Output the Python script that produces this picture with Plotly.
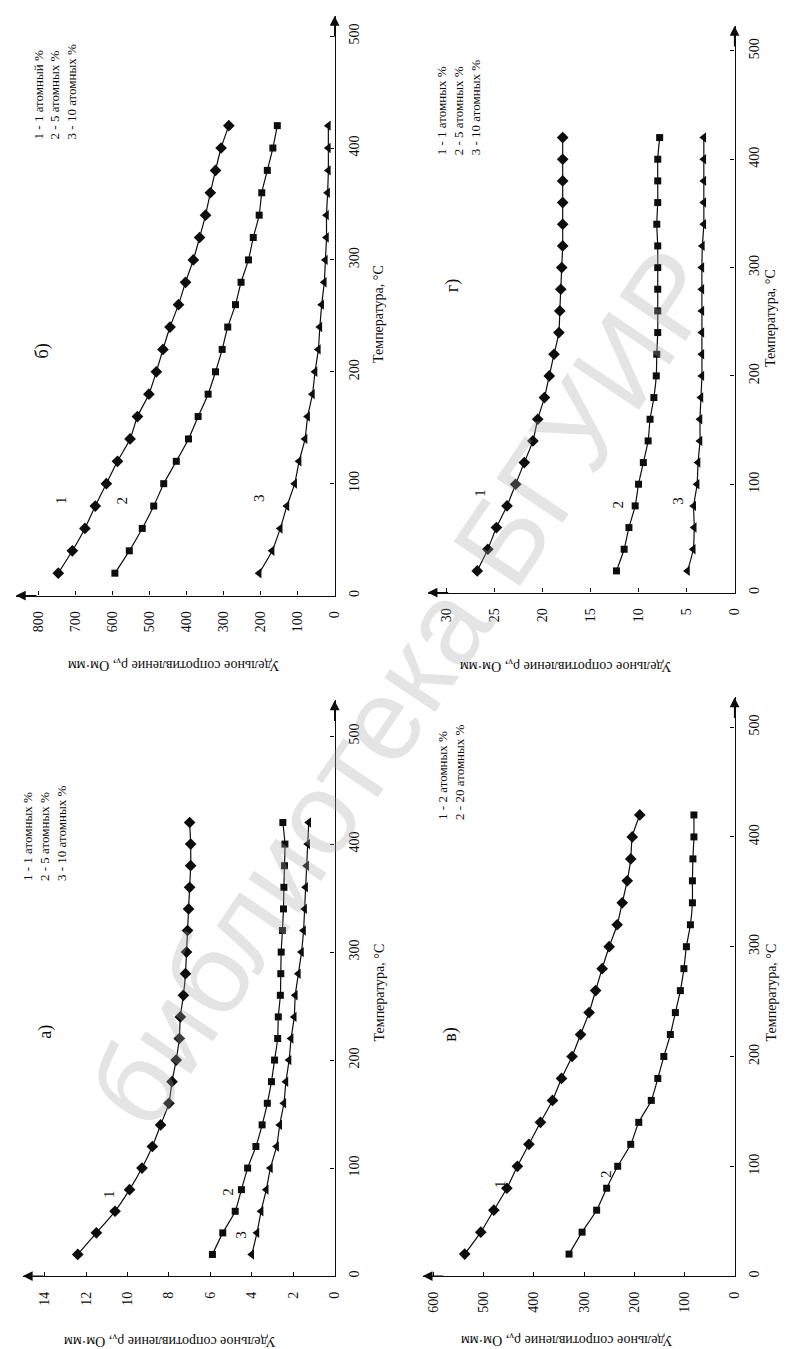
import plotly.graph_objects as go

W, H = 788, 1349

# ---------------- data ----------------
temperature = [20, 40, 60, 80, 100, 120, 140, 160, 180, 200, 220,
               240, 260, 280, 300, 320, 340, 360, 380, 400, 420]
temp_ticks = [0, 100, 200, 300, 400, 500]

# panel а)  (Ом·мм)
a_1 = [12.4, 11.5, 10.6, 9.9, 9.3, 8.8, 8.4, 8.0, 7.85, 7.65, 7.5,
       7.45, 7.3, 7.2, 7.15, 7.1, 7.05, 7.0, 6.95, 6.95, 7.0]
a_5 = [5.9, 5.4, 4.8, 4.5, 4.2, 3.8, 3.5, 3.25, 3.05, 2.9, 2.75,
       2.72, 2.62, 2.6, 2.58, 2.52, 2.47, 2.45, 2.42, 2.4, 2.5]
a_10 = [4.0, 3.75, 3.55, 3.3, 3.1, 2.8, 2.65, 2.45, 2.35, 2.2, 2.1,
        1.95, 1.9, 1.75, 1.6, 1.5, 1.45, 1.4, 1.35, 1.3, 1.25]
a_ticks = [0, 2, 4, 6, 8, 10, 12, 14]

# panel б)
b_1 = [747, 709, 675, 647, 617, 587, 553, 533, 502, 482, 464,
       445, 422, 403, 382, 365, 349, 336, 322, 307, 286]
b_5 = [594, 555, 520, 489, 462, 428, 395, 369, 342, 322, 304,
       289, 268, 253, 233, 220, 204, 197, 182, 167, 155]
b_10 = [204, 169, 147, 129, 108, 96, 80, 73, 60, 53, 44,
        40, 35, 28, 25, 22, 22, 19, 17, 17, 17]
b_ticks = [0, 100, 200, 300, 400, 500, 600, 700, 800]

# panel в)
c_2 = [538, 506, 480, 454, 433, 410, 387, 363, 345, 324, 307,
       290, 277, 264, 250, 234, 224, 214, 207, 204, 189]
c_20 = [330, 304, 275, 255, 233, 207, 191, 166, 153, 141, 128,
        118, 108, 101, 96, 88, 84, 84, 83, 81, 81]
c_ticks = [0, 100, 200, 300, 400, 500, 600]

# panel г)
d_1 = [26.8, 25.7, 24.8, 23.7, 22.8, 21.9, 21.0, 20.5, 19.8, 19.3, 18.8,
       18.3, 18.2, 18.1, 18.0, 17.9, 17.9, 17.9, 17.9, 17.9, 17.9]
d_5 = [12.3, 11.5, 11.0, 10.35, 10.0, 9.5, 9.0, 8.8, 8.4, 8.15, 8.1,
       8.0, 8.0, 8.0, 8.0, 8.0, 8.1, 8.0, 8.0, 8.0, 7.8]
d_10 = [4.9, 4.3, 4.2, 4.25, 3.9, 3.8, 3.6, 3.6, 3.5, 3.4, 3.4,
        3.4, 3.4, 3.4, 3.4, 3.35, 3.2, 3.2, 3.2, 3.2, 3.2]
d_ticks = [0, 5, 10, 15, 20, 25, 30]

legend_a = ["1 - 1 атомных %", "2 - 5 атомных %", "3 - 10 атомных %"]
legend_b = ["1 - 1 атомный %", "2 - 5 атомных %", "3 - 10 атомных %"]
legend_c = ["1 - 2 атомных %", "2 - 20 атомных %"]
legend_d = ["1 - 1 атомных %", "2 - 5 атомных %", "3 - 10 атомных %"]

x_title = "Температура, °C"
y_title = "Удельное сопротивление ρ<sub>v</sub>, Ом·мм"
watermark = "библиотека БГУИР"

FONT = "Liberation Serif, Times New Roman, serif"
INK = "#0d0d0d"

def px(p):
    return p / W

def py(p):
    return 1 - p / H

symbols = ["diamond", "square", "triangle-left"]
msizes = [9, 7, 9]

panels = [
    dict(ax="", label="а)", left=15, right=330, bottom=1269, top=693,
         rmax=15.05, tmax=533, ticks=a_ticks, series=[a_1, a_5, a_10],
         legend=legend_a, leg_xy=(37, 826), lab_xy=(38, 1025),
         xt_xy=(375, 985), yt_xy=(163, 1334),
         curve_labels=[("1", 102, 1187), ("2", 222, 1185), ("3", 235, 1228)]),
    dict(ax="2", label="б)", left=8, right=330, bottom=588, top=8,
         rmax=861.5, tmax=518, ticks=b_ticks, series=[b_1, b_5, b_10],
         legend=legend_b, leg_xy=(48, 84), lab_xy=(35, 343),
         xt_xy=(375, 306), yt_xy=(167, 657),
         curve_labels=[("1", 53, 492), ("2", 115, 493), ("3", 253, 490)]),
    dict(ax="3", label="в)", left=419, right=734, bottom=1269, top=690,
         rmax=621.7, tmax=527, ticks=c_ticks, series=[c_2, c_20],
         legend=legend_c, leg_xy=(448, 765), lab_xy=(447, 1027),
         xt_xy=(771, 985), yt_xy=(564, 1333),
         curve_labels=[("1", 497, 1177), ("2", 604, 1167)]),
    dict(ax="4", label="г)", left=424, right=734, bottom=585, top=18,
         rmax=31.96, tmax=523, ticks=d_ticks, series=[d_1, d_5, d_10],
         legend=legend_d, leg_xy=(456, 100), lab_xy=(449, 278),
         xt_xy=(771, 310), yt_xy=(563, 658),
         curve_labels=[("1", 476, 485), ("2", 616, 497), ("3", 676, 493)]),
]

fig = go.Figure()
annotations = []
layout_axes = {}

# faint library watermark of the scan (drawn first so it sits below other text)
annotations.append(dict(
    text=watermark, x=px(400), y=py(680), xref="paper", yref="paper",
    showarrow=False, textangle=-56,
    font=dict(family="Liberation Sans, Arial, sans-serif", size=116,
              color="rgba(165,165,165,0.30)"),
    xanchor="center", yanchor="middle"))

for p in panels:
    xa = "x" + p["ax"]
    ya = "y" + p["ax"]
    xkey = "xaxis" + p["ax"]
    ykey = "yaxis" + p["ax"]
    layout_axes[xkey] = dict(
        domain=[px(p["left"]), px(p["right"])],
        range=[p["rmax"], 0], anchor=ya, side="bottom",
        showline=True, linecolor=INK, linewidth=1.4,
        ticks="inside", ticklen=4, tickwidth=1.2, tickcolor=INK,
        tickvals=p["ticks"], ticktext=[str(v) for v in p["ticks"]],
        tickangle=-90, ticklabelstandoff=9,
        tickfont=dict(family=FONT, size=14, color=INK),
        showgrid=False, zeroline=False, fixedrange=True)
    layout_axes[ykey] = dict(
        domain=[py(p["bottom"]), py(p["top"])],
        range=[0, p["tmax"]], anchor=xa, side="right",
        showline=True, linecolor=INK, linewidth=1.4,
        ticks="inside", ticklen=4, tickwidth=1.2, tickcolor=INK,
        tickvals=temp_ticks, ticktext=[str(v) for v in temp_ticks],
        tickangle=-90, ticklabelstandoff=6,
        tickfont=dict(family=FONT, size=14, color=INK),
        showgrid=False, zeroline=False, fixedrange=True)

    for i, vals in enumerate(p["series"]):
        fig.add_trace(go.Scatter(
            x=vals, y=temperature, xaxis=xa, yaxis=ya,
            mode="lines+markers",
            line=dict(color=INK, width=1.2, shape="spline", smoothing=0.6),
            marker=dict(symbol=symbols[i], size=msizes[i], color=INK),
            showlegend=False, cliponaxis=False, hoverinfo="skip"))

    # arrows at the ends of both axes
    annotations.append(dict(
        x=0, y=0, xref=xa + " domain", yref=ya + " domain",
        ax=22, ay=0, axref="pixel", ayref="pixel", text="",
        showarrow=True, arrowhead=2, arrowsize=1.5, arrowwidth=1.3,
        arrowcolor=INK, standoff=0))
    annotations.append(dict(
        x=1, y=1, xref=xa + " domain", yref=ya + " domain",
        ax=0, ay=22, axref="pixel", ayref="pixel", text="",
        showarrow=True, arrowhead=2, arrowsize=1.5, arrowwidth=1.3,
        arrowcolor=INK, standoff=0))

    # legend block (rotated text)
    annotations.append(dict(
        text="<br>".join(p["legend"]), x=px(p["leg_xy"][0]), y=py(p["leg_xy"][1]),
        xref="paper", yref="paper", showarrow=False, textangle=-90, align="left",
        font=dict(family=FONT, size=13, color=INK),
        xanchor="center", yanchor="middle"))
    # panel label
    annotations.append(dict(
        text=p["label"], x=px(p["lab_xy"][0]), y=py(p["lab_xy"][1]),
        xref="paper", yref="paper", showarrow=False, textangle=-90,
        font=dict(family=FONT, size=18, color=INK),
        xanchor="center", yanchor="middle"))
    # axis titles
    annotations.append(dict(
        text=x_title, x=px(p["xt_xy"][0]), y=py(p["xt_xy"][1]),
        xref="paper", yref="paper", showarrow=False, textangle=-90,
        font=dict(family=FONT, size=14, color=INK),
        xanchor="center", yanchor="middle"))
    annotations.append(dict(
        text=y_title, x=px(p["yt_xy"][0]), y=py(p["yt_xy"][1]),
        xref="paper", yref="paper", showarrow=False, textangle=180,
        font=dict(family=FONT, size=14, color=INK),
        xanchor="center", yanchor="middle"))
    # curve numbers
    for t, cx, cy in p["curve_labels"]:
        annotations.append(dict(
            text=t, x=px(cx), y=py(cy), xref="paper", yref="paper",
            showarrow=False, textangle=-90,
            font=dict(family=FONT, size=15, color=INK),
            xanchor="center", yanchor="middle"))

fig.update_layout(
    width=W, height=H,
    margin=dict(l=0, r=0, t=0, b=0),
    paper_bgcolor="white", plot_bgcolor="white",
    showlegend=False,
    annotations=annotations,
    **layout_axes)

fig.write_html("out.html")
